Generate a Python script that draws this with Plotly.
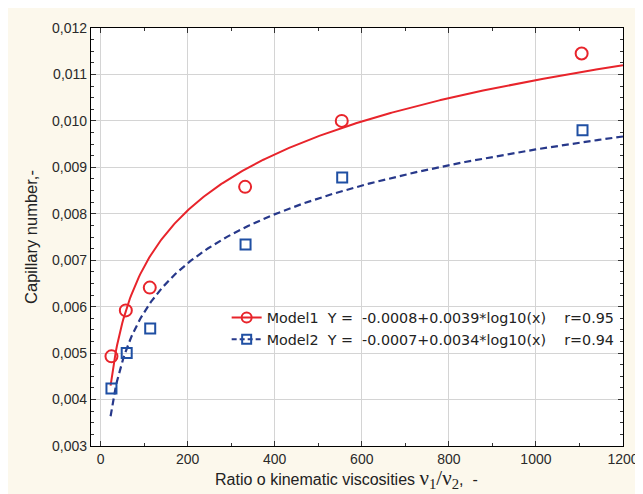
import numpy as np
import plotly.graph_objects as go

# Data
ratio_model1 = [25, 58, 113, 332, 554, 1105]
capillary_model1 = [0.00493, 0.00592, 0.00641, 0.00858, 0.01000, 0.01145]
ratio_model2 = [25, 60, 114, 333, 555, 1107]
capillary_model2 = [0.00424, 0.00500, 0.00553, 0.00734, 0.00878, 0.00980]

legend_model1 = "Model1\u00a0\u00a0Y =\u00a0\u00a0-0.0008+0.0039*log10(x)\u00a0\u00a0\u00a0\u00a0r=0.95"
legend_model2 = "Model2\u00a0\u00a0Y =\u00a0\u00a0-0.0007+0.0034*log10(x)\u00a0\u00a0\u00a0\u00a0r=0.94"

x_ticks = [0, 200, 400, 600, 800, 1000, 1200]
y_ticks = [0.003, 0.004, 0.005, 0.006, 0.007, 0.008, 0.009, 0.010, 0.011, 0.012]

x_title = ("Ratio o kinematic viscosities <span style='font-family:Liberation Serif, Times New Roman;"
           "font-size:21px'>ν<sub>1</sub>/ν<sub>2</sub></span>,\u00a0\u00a0-")
y_title = "Capillary number,-"

RED = "#e8242b"
BLUE_MK = "#1f4fa3"
BLUE_LN = "#27388a"

# Least-squares fit of y on log10(x) from the data
c1 = np.polyfit(np.log10(ratio_model1), capillary_model1, 1)
c2 = np.polyfit(np.log10(ratio_model2), capillary_model2, 1)
xs1 = np.linspace(23, 1200, 400)
xs2 = np.linspace(23, 1200, 400)
ys1 = np.polyval(c1, np.log10(xs1))
ys2 = np.polyval(c2, np.log10(xs2))

fig = go.Figure()
fig.add_trace(go.Scatter(x=xs1, y=ys1, mode="lines", line=dict(color=RED, width=2),
                         showlegend=False, hoverinfo="skip"))
fig.add_trace(go.Scatter(x=xs2, y=ys2, mode="lines", line=dict(color=BLUE_LN, width=2.2, dash="7px,4px"),
                         showlegend=False, hoverinfo="skip"))
fig.add_trace(go.Scatter(x=ratio_model1, y=capillary_model1, mode="markers",
                         marker=dict(symbol="circle-open", size=12, color=RED, line=dict(width=2)),
                         showlegend=False))
fig.add_trace(go.Scatter(x=ratio_model2, y=capillary_model2, mode="markers",
                         marker=dict(symbol="square-open", size=10, color=BLUE_MK, line=dict(width=2)),
                         showlegend=False))
# legend entries
fig.add_trace(go.Scatter(x=[None], y=[None], mode="lines+markers", name=legend_model1,
                         line=dict(color=RED, width=2),
                         marker=dict(symbol="circle-open", size=10, color=RED, line=dict(width=2))))
fig.add_trace(go.Scatter(x=[None], y=[None], mode="lines+markers", name=legend_model2,
                         line=dict(color=BLUE_LN, width=2, dash="5px,3px"),
                         marker=dict(symbol="square-open", size=9, color=BLUE_MK, line=dict(width=2))))

axis_common = dict(
    showline=True, linecolor="black", linewidth=1.2, mirror="ticks",
    ticks="inside", ticklen=5, tickcolor="#333", tickwidth=1,
    showgrid=True, gridcolor="#d4d4d4", gridwidth=1, zeroline=False,
    ticklabeloverflow="allow",
    tickfont=dict(family="Liberation Sans, Arial", size=14, color="#2a2a2a"),
)

fig.update_layout(
    width=643, height=494,
    paper_bgcolor="#fcf8ec", plot_bgcolor="white",
    margin=dict(l=83, r=15, t=20, b=56),
    separators=", ",
    font=dict(family="Liberation Sans, Arial", color="#222"),
    legend=dict(x=0.255, y=0.345, xanchor="left", yanchor="top",
                bgcolor="rgba(255,255,255,0)", borderwidth=0,
                font=dict(family="DejaVu Sans", size=14.3, color="#222"),
                itemwidth=30, tracegroupgap=0),
    xaxis=dict(range=[-22, 1200], tickvals=x_ticks, tickformat="d",
               minor=dict(dtick=100, tick0=0, ticks="inside", ticklen=3, tickcolor="#333", showgrid=False),
               **axis_common),
    yaxis=dict(range=[0.003, 0.012], tickvals=y_ticks, tickformat=".3f",
               minor=dict(dtick=0.00025, tick0=0.003, ticks="inside", ticklen=3, tickcolor="#333", showgrid=False),
               title=dict(text=y_title, font=dict(size=16.5, color="#222"), standoff=10),
               **axis_common),
    annotations=[dict(text=x_title, xref="paper", yref="paper", x=0.48, y=0,
                      xanchor="center", yanchor="middle", yshift=-33, showarrow=False,
                      font=dict(size=16, color="#222"))],
)

fig.write_html("out.html")
